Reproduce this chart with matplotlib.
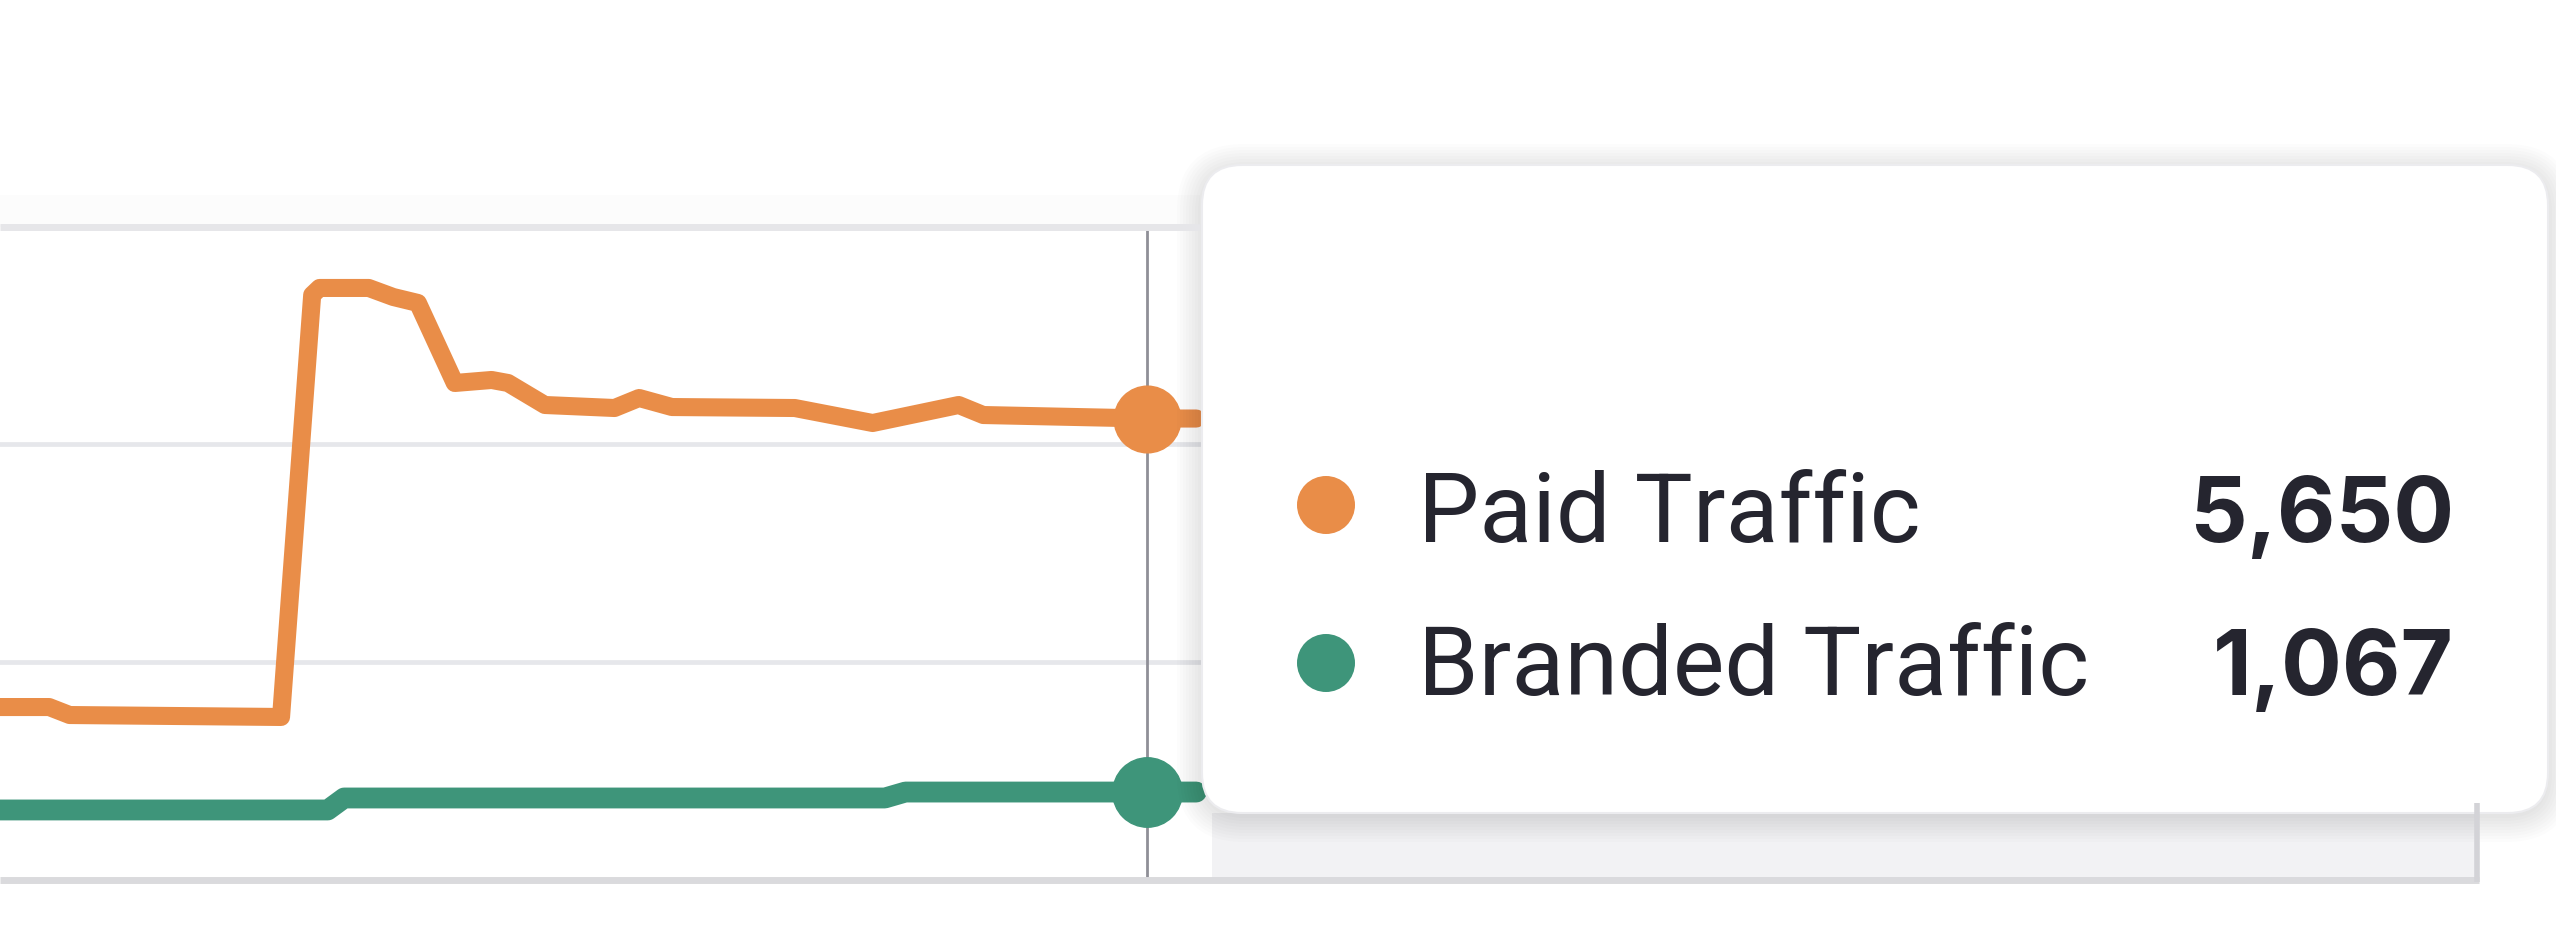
import matplotlib
matplotlib.use("Agg")
import matplotlib.pyplot as plt
from matplotlib.patches import FancyBboxPatch, Rectangle, Circle

# ---------------- data ----------------
paid_days = [0, 6, 8.5, 34.3, 38.1, 39, 45, 48, 51, 55.5, 60, 62, 66.5, 75, 78, 82, 97, 106.5, 117, 120, 140, 146]
paid_vals = [2110, 2110, 2012, 1988, 7166, 7252, 7252, 7141, 7068, 6086, 6123, 6086, 5816, 5779, 5902, 5791, 5779, 5595, 5816, 5693, 5650, 5650]
branded_days = [0, 40, 42, 108, 110.5, 140, 146]
branded_vals = [847, 847, 994, 994, 1067, 1067, 1067]
series_names = ["Paid Traffic", "Branded Traffic"]
hover_day = 140
hover_labels = ["5,650", "1,067"]

ORANGE = "#E98D48"
GREEN = "#3E957A"
TEXT = "#25252f"

W, H = 2556, 935
fig = plt.figure(figsize=(W / 100, H / 100), dpi=100)
fig.patch.set_facecolor("white")

# plot area in pixels
L, R, T, B = 0, 2477, 227, 879
ax = fig.add_axes([L / W, (H - B) / H, (R - L) / W, (B - T) / H])
ax.set_xlim(0, 302.3)
ax.set_ylim(0, 8000)
ax.set_yticks([8000 / 3, 16000 / 3])
ax.set_xticks([])
ax.tick_params(left=False, labelleft=False)
ax.grid(axis="y", color="#e6e7eb", linewidth=3.4)
for s in ["left", "right", "top", "bottom"]:
    ax.spines[s].set_visible(False)
ax.set_facecolor("white")

ax.axvline(hover_day, color="#8f8f97", linewidth=2.0, zorder=2)
ax.plot(paid_days, paid_vals, color=ORANGE, linewidth=13, solid_joinstyle="round",
        solid_capstyle="round", zorder=3)
ax.plot(branded_days, branded_vals, color=GREEN, linewidth=15, solid_joinstyle="round",
        solid_capstyle="round", zorder=3)
i_p = paid_days.index(hover_day)
i_b = branded_days.index(hover_day)
ax.plot([hover_day], [paid_vals[i_p]], "o", color=ORANGE, markersize=48, zorder=4)
ax.plot([hover_day], [branded_vals[i_b]], "o", color=GREEN, markersize=50, zorder=4)

# ---------------- overlay (pixel coordinates) ----------------
ov = fig.add_axes([0, 0, 1, 1], zorder=10)
ov.set_xlim(0, W)
ov.set_ylim(H, 0)
ov.axis("off")
ov.patch.set_alpha(0)

# card top border with soft shadow above
for k in range(8):
    ov.add_patch(Rectangle((0, 227 - 4 - k * 4), 1200, 4, color="#e9e9ec", alpha=0.12, lw=0))
ov.plot([0, 1200], [227, 227], color="#e6e6e9", linewidth=5, solid_capstyle="butt")
# card bottom border
ov.plot([0, 2479], [880, 880], color="#dadadd", linewidth=5, solid_capstyle="butt")

# tooltip
tx0, ty0, tx1, ty1 = 1202, 165, 2548, 813
# shadow band below tooltip on the card
ov.add_patch(Rectangle((tx0 + 10, ty1), R - tx0 - 10, 880 - ty1, color="#f2f2f4", lw=0))
ov.plot([2477, 2477], [ty1 - 10, 882], color="#d3d3d7", linewidth=4, solid_capstyle="butt")
# soft shadow around tooltip
for k in range(1, 10):
    pad = k * 3
    ov.add_patch(FancyBboxPatch((tx0 - pad + 2, ty0 - pad + 6), (tx1 - tx0) + 2 * pad - 4,
                                (ty1 - ty0) + 2 * pad - 4,
                                boxstyle="round,pad=0,rounding_size=%d" % (40 + pad),
                                facecolor="#000000", edgecolor="none", alpha=0.012))
ov.add_patch(FancyBboxPatch((tx0, ty0), tx1 - tx0, ty1 - ty0,
                            boxstyle="round,pad=0,rounding_size=40",
                            facecolor="white", edgecolor="#ececef", linewidth=1.5))

# tooltip rows
name_font = ["Roboto", "DejaVu Sans"]
num_font = ["Inter", "DejaVu Sans"]
rows = [(505, 542, ORANGE), (663, 695, GREEN)]
for (cy, base, col), name, val in zip(rows, series_names, hover_labels):
    ov.add_patch(Circle((1326, cy), 29, color=col, lw=0))
    ov.text(1418, base, name, fontsize=70, family=name_font, color=TEXT,
            va="baseline", ha="left")
    ov.text(2454, base, val, fontsize=65, family=num_font, weight="bold", color=TEXT,
            va="baseline", ha="right")

fig.savefig("out.png", dpi=100, facecolor="white")
